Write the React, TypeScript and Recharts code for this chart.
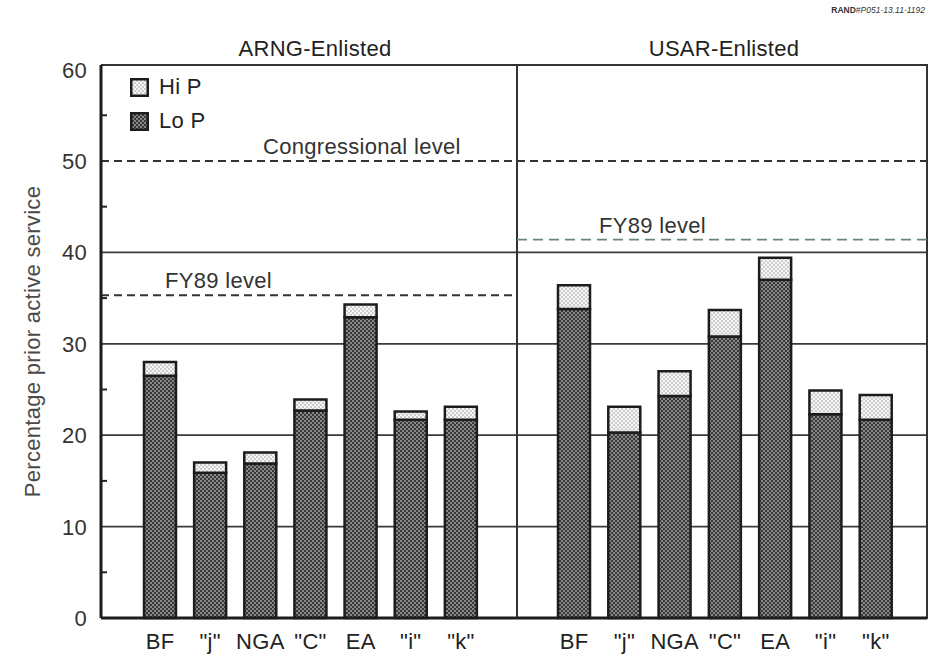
import React from 'react';
import * as Recharts from 'recharts';
import { BarChart, Bar, XAxis, YAxis, CartesianGrid, ReferenceLine, Legend } from 'recharts';

const FONT = '"Liberation Sans", Arial, Helvetica, sans-serif';
const FS = 22;
const LS = 0.3;

// ---- data ----
const categories = ['BF', '"j"', 'NGA', '"C"', 'EA', '"i"', '"k"'];
const arngLoP = [26.5, 15.9, 16.9, 22.7, 32.9, 21.7, 21.7];
const arngHiP = [1.5, 1.1, 1.2, 1.2, 1.4, 0.9, 1.4];
const usarLoP = [33.8, 20.3, 24.3, 30.8, 37.0, 22.3, 21.7];
const usarHiP = [2.6, 2.8, 2.7, 2.9, 2.4, 2.6, 2.7];
const congressionalLevel = 50;
const arngFY89Level = 35.3;
const usarFY89Level = 41.4;
const yTicks = [0, 5, 10, 15, 20, 25, 30, 35, 40, 45, 50, 55, 60];
const gridLevels = [10, 20, 30, 40];
const panelTitles = ['ARNG-Enlisted', 'USAR-Enlisted'];
const seriesNames = { lo: 'Lo P', hi: 'Hi P' };
const legendOrder = ['Hi P', 'Lo P'];
const Y_DOMAIN: [number, number] = [0, 60.5];

const arngData = categories.map((cat, i) => ({ cat, lo: arngLoP[i], hi: arngHiP[i] }));
const usarData = categories.map((cat, i) => ({ cat, lo: usarLoP[i], hi: usarHiP[i] }));

const fills: Record<string, string> = { 'Lo P': 'url(#loP)', 'Hi P': 'url(#hiP)' };

const usePlotAreaSafe: () => any = (Recharts as any).usePlotArea || (() => null);

const PlotFrame = () => {
  const p = usePlotAreaSafe();
  if (!p) return null;
  return <rect x={p.x} y={p.y} width={p.width} height={p.height} fill="none" stroke="#333" strokeWidth={2} />;
};

const YTick = (props: any) => {
  const { x, y, payload } = props;
  const v = payload.value;
  if (v % 10 !== 0) {
    return <line x1={x + 15} x2={x + 20} y1={y} y2={y} stroke="#222" strokeWidth={2} />;
  }
  return (
    <text x={x} y={y} dy={8} textAnchor="end" fill="#333" fontSize={FS} fontFamily={FONT} letterSpacing={LS}>
      {v}
    </text>
  );
};

const makeRefLabel = (text: string, dx: number) => (props: any) => {
  const vb = props.viewBox || {};
  return (
    <text x={(vb.x || 0) + dx} y={(vb.y || 0) - 7} fill="#333" fontSize={FS} fontFamily={FONT} letterSpacing={LS}>
      {text}
    </text>
  );
};

const LegendContent = (props: any) => {
  const payload = props.payload || [];
  const items = legendOrder
    .map((name) => payload.find((p: any) => p.value === name))
    .filter(Boolean);
  return (
    <div style={{ fontFamily: FONT, fontSize: FS, color: '#222', letterSpacing: LS }}>
      {items.map((it: any) => (
        <div key={it.value} style={{ display: 'flex', alignItems: 'center', height: 34 }}>
          <svg width={19} height={19} style={{ marginLeft: 2 }}>
            <rect x={1.25} y={1.25} width={16.5} height={16.5} fill={fills[it.value]} stroke="#1c1c1c" strokeWidth={2.5} />
          </svg>
          <span style={{ marginLeft: 10, lineHeight: '22px' }}>{it.value}</span>
        </div>
      ))}
    </div>
  );
};

const axisDark = { stroke: '#1c1c1c', strokeWidth: 3 };
const frameLine = { stroke: '#333', strokeWidth: 2 };
const xTick = { fill: '#222', fontSize: FS, fontFamily: FONT, letterSpacing: LS };

export default function App() {
  return (
    <div style={{ position: 'absolute', left: 0, top: 0, width: 931, height: 663, background: '#fff', overflow: 'hidden' }}>
      <svg width={0} height={0} style={{ position: 'absolute' }}>
        <defs>
          <pattern id="loP" width={4} height={4} patternUnits="userSpaceOnUse">
            <rect width={4} height={4} fill="#393939" />
            <rect x={0} y={0} width={2} height={2} fill="#878787" />
            <rect x={2} y={2} width={2} height={2} fill="#878787" />
          </pattern>
          <pattern id="hiP" width={4} height={4} patternUnits="userSpaceOnUse">
            <rect width={4} height={4} fill="#f6f6f6" />
            <rect x={0} y={0} width={2} height={2} fill="#cdcdcd" />
            <rect x={2} y={2} width={2} height={2} fill="#cdcdcd" />
          </pattern>
        </defs>
      </svg>

      <div style={{ position: 'absolute', left: 0, top: 0 }}>
        <BarChart width={519} height={663} data={arngData} margin={{ top: 64, right: 1, bottom: 0, left: 0 }} barSize={32}>
          <CartesianGrid vertical={false} horizontalValues={gridLevels} stroke="#3a3a3a" strokeWidth={1.8} />
          <XAxis dataKey="cat" interval={0} padding={{ left: 34, right: 31 }} height={45} axisLine={axisDark} tickLine={false} tickSize={0} tickMargin={15} tick={xTick} />
          <XAxis xAxisId="top" dataKey="cat" orientation="top" height={1} tick={false} tickLine={false} axisLine={frameLine} />
          <YAxis
            domain={Y_DOMAIN}
            ticks={yTicks}
            interval={0}
            width={101}
            axisLine={axisDark}
            tickLine={false}
            tickSize={0}
            tickMargin={14}
            tick={<YTick />}
            label={{ value: 'Percentage prior active service', angle: -90, position: 'insideLeft', offset: 32, fill: '#4a4a4a', fontSize: FS, fontFamily: FONT, letterSpacing: LS, style: { textAnchor: 'middle' } }}
          />
          <YAxis yAxisId="div" orientation="right" width={1} domain={Y_DOMAIN} tick={false} tickLine={false} axisLine={frameLine} />
          <ReferenceLine y={congressionalLevel} stroke="#333" strokeWidth={2} strokeDasharray="8 5" label={makeRefLabel('Congressional level', 162)} />
          <ReferenceLine y={arngFY89Level} stroke="#333" strokeWidth={2} strokeDasharray="8 5" label={makeRefLabel('FY89 level', 64)} />
          <Bar dataKey="lo" name={seriesNames.lo} stackId="a" fill="url(#loP)" stroke="#1c1c1c" strokeWidth={2.5} isAnimationActive={false} />
          <Bar dataKey="hi" name={seriesNames.hi} stackId="a" fill="url(#hiP)" stroke="#1c1c1c" strokeWidth={2.5} isAnimationActive={false} />
          <Legend layout="vertical" align="center" verticalAlign="middle" content={<LegendContent />} wrapperStyle={{ top: 70, left: 128, width: 'auto', height: 'auto' }} />
        </BarChart>
      </div>

      <div style={{ position: 'absolute', left: 517, top: 0 }}>
        <BarChart width={414} height={663} data={usarData} margin={{ top: 65, right: 4, bottom: 0, left: 0 }} barSize={32}>
          <CartesianGrid vertical={false} horizontalValues={gridLevels} stroke="#3a3a3a" strokeWidth={1.8} />
          <XAxis dataKey="cat" interval={0} padding={{ left: 32, right: 26 }} height={45} axisLine={axisDark} tickLine={false} tickSize={0} tickMargin={15} tick={xTick} />
          <YAxis hide domain={Y_DOMAIN} ticks={yTicks} />
          <PlotFrame />
          <ReferenceLine y={congressionalLevel} stroke="#333" strokeWidth={2} strokeDasharray="8 5" />
          <ReferenceLine y={usarFY89Level} stroke="#6b8577" strokeWidth={1.6} strokeDasharray="10 6" label={makeRefLabel('FY89 level', 82)} />
          <Bar dataKey="lo" name={seriesNames.lo} stackId="a" fill="url(#loP)" stroke="#1c1c1c" strokeWidth={2.5} isAnimationActive={false} />
          <Bar dataKey="hi" name={seriesNames.hi} stackId="a" fill="url(#hiP)" stroke="#1c1c1c" strokeWidth={2.5} isAnimationActive={false} />
        </BarChart>
      </div>

      <svg width={931} height={663} style={{ position: 'absolute', left: 0, top: 0, pointerEvents: 'none' }}>
        <text x={315} y={56} textAnchor="middle" fill="#222" fontSize={FS} fontFamily={FONT} letterSpacing={LS}>{panelTitles[0]}</text>
        <text x={724} y={56} textAnchor="middle" fill="#222" fontSize={FS} fontFamily={FONT} letterSpacing={LS}>{panelTitles[1]}</text>
        <text x={925} y={13} textAnchor="end" fill="#333" fontSize={8.5} fontFamily={FONT}>
          <tspan fontWeight="bold">RAND</tspan>
          <tspan fontStyle="italic">#P051-13.11-1192</tspan>
        </text>
      </svg>
    </div>
  );
}
